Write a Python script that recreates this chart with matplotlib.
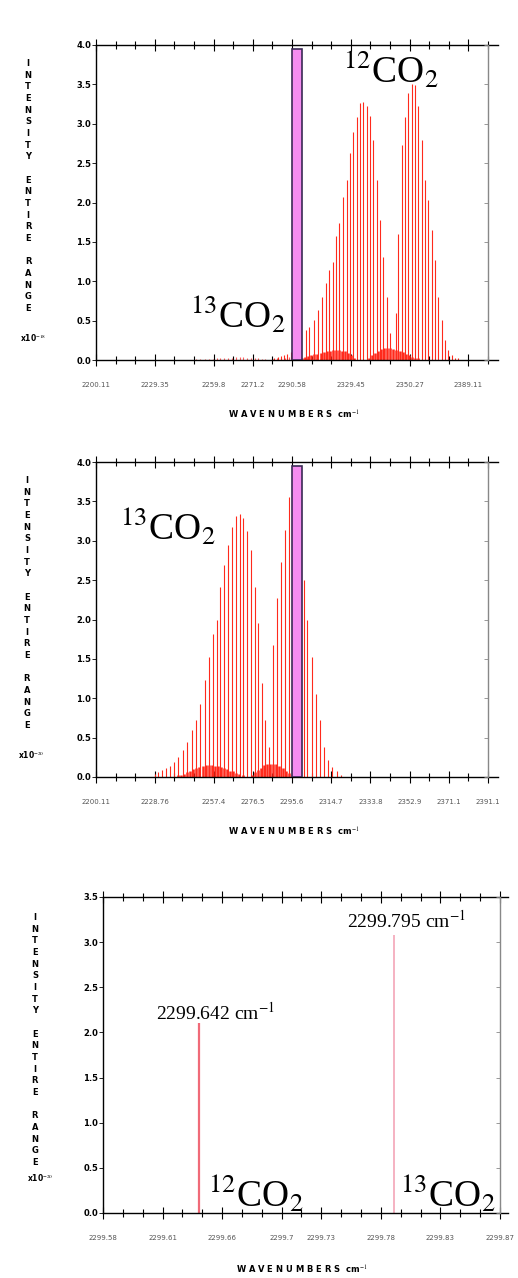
import numpy as np
import matplotlib
matplotlib.use("Agg")
import matplotlib.pyplot as plt
from matplotlib.patches import Rectangle
from matplotlib.ticker import FixedLocator, FixedFormatter

plt.rcParams['mathtext.fontset'] = 'stix'
plt.rcParams['font.family'] = ['DejaVu Sans']

# ---- data ----
# 12CO2 band (top panel, intensity x1e-18)
co12_nu = [2287.0, 2288.6, 2290.2, 2291.8, 2293.4, 2295.0, 2296.6, 2298.2, 2299.8,
           2302.4, 2304.1, 2306.3, 2308.4, 2310.4, 2312.2, 2313.8, 2315.4, 2317.0,
           2318.7, 2320.3, 2322.2, 2323.9, 2325.5, 2327.1, 2328.7, 2330.4, 2332.0,
           2333.6, 2335.2, 2337.2, 2338.5, 2340.1, 2341.7, 2343.4,
           2346.2, 2347.4, 2349.0, 2350.7, 2352.3, 2353.9, 2355.5, 2357.2, 2358.8,
           2360.4, 2362.0, 2363.7, 2365.3, 2366.9, 2368.5, 2370.1, 2371.8, 2373.4,
           2375.0, 2376.6]
co12_int = [0.03, 0.04, 0.05, 0.06, 0.08, 0.10, 0.15, 0.22, 0.30,
            0.38, 0.42, 0.51, 0.63, 0.80, 0.98, 1.14, 1.25, 1.57,
            1.74, 2.07, 2.29, 2.63, 2.90, 3.09, 3.26, 3.28, 3.22,
            3.10, 2.79, 2.29, 1.78, 1.31, 0.80, 0.34,
            0.60, 1.60, 2.73, 3.09, 3.39, 3.51, 3.49, 3.22, 2.79,
            2.29, 2.03, 1.65, 1.27, 0.80, 0.51, 0.25, 0.13, 0.06,
            0.03, 0.02]
co12_hot_nu = [2299.0, 2300.5, 2302.0, 2303.5, 2305.0, 2306.5, 2308.0, 2309.5, 2311.0,
               2312.5, 2314.0, 2315.5, 2317.0, 2318.5, 2320.0, 2321.5, 2323.0, 2324.5,
               2326.0, 2333.0, 2334.5, 2336.0, 2337.5, 2339.0, 2340.5, 2342.0, 2343.5,
               2345.0, 2346.5, 2348.0, 2349.5, 2351.0, 2352.5, 2354.0, 2355.5, 2357.0]
co12_hot_int = [0.02, 0.03, 0.04, 0.05, 0.06, 0.07, 0.08, 0.09, 0.10,
                0.11, 0.12, 0.13, 0.13, 0.13, 0.12, 0.11, 0.09, 0.06,
                0.03, 0.03, 0.06, 0.09, 0.12, 0.14, 0.15, 0.15, 0.15,
                0.14, 0.13, 0.12, 0.10, 0.08, 0.06, 0.04, 0.03, 0.02]

# 13CO2 band (middle panel, intensity x1e-20)
co13_nu = [2228.9, 2230.3, 2232.3, 2234.2, 2236.2, 2238.1, 2240.1, 2242.5, 2244.5,
           2246.9, 2248.8, 2250.8, 2253.2, 2255.2, 2257.1, 2259.1, 2260.5, 2262.5,
           2264.4, 2266.4, 2268.3, 2270.3, 2271.7, 2273.7, 2275.6, 2277.6, 2279.0,
           2281.0, 2282.5, 2284.4, 2286.4, 2288.3, 2290.3, 2292.2, 2294.1, 2296.1,
           2298.0, 2300.0, 2301.5, 2302.9, 2305.4, 2307.3, 2309.3, 2311.2, 2313.2,
           2315.1, 2317.5, 2319.5]
co13_int = [0.04, 0.06, 0.085, 0.12, 0.14, 0.19, 0.26, 0.34, 0.44,
            0.60, 0.72, 0.93, 1.23, 1.52, 1.82, 1.99, 2.41, 2.69,
            2.94, 3.17, 3.31, 3.34, 3.29, 3.13, 2.88, 2.41, 1.95,
            1.20, 0.72, 0.38, 1.67, 2.27, 2.73, 3.14, 3.56, 3.80,
            3.70, 3.10, 2.50, 2.00, 1.52, 1.06, 0.72, 0.38, 0.21,
            0.13, 0.07, 0.03]
co13_hot_nu = [2240.0, 2241.5, 2243.0, 2244.5, 2246.0, 2247.5, 2249.0, 2250.5, 2252.0,
               2253.5, 2255.0, 2256.5, 2258.0, 2259.5, 2261.0, 2262.5, 2264.0, 2265.5,
               2267.0, 2268.5, 2270.0, 2271.5, 2276.0, 2277.5, 2279.0, 2280.5, 2282.0,
               2283.5, 2285.0, 2286.5, 2288.0, 2289.5, 2291.0, 2292.5, 2294.0, 2295.5]
co13_hot_int = [0.02, 0.03, 0.04, 0.06, 0.08, 0.10, 0.11, 0.13, 0.14,
                0.15, 0.15, 0.15, 0.14, 0.14, 0.13, 0.12, 0.10, 0.08,
                0.07, 0.05, 0.04, 0.03, 0.03, 0.06, 0.09, 0.12, 0.15,
                0.16, 0.17, 0.17, 0.16, 0.14, 0.11, 0.08, 0.05, 0.03]

# scanned window (magenta box)
win_start = 2295.6
win_width = 4.9
win_height = 3.95

# the two lines inside the window (bottom panel, x1e-20)
pair_nu = [2299.642, 2299.795]
pair_int = [2.10, 3.08]
pair_text = ['2299.642 cm$^{-1}$', '2299.795 cm$^{-1}$']
pair_colors = ['#f06a78', '#f4a6b8']

# axis ranges and tick labels as printed
wide_range = (2200.11, 2391.1)
narrow_range = (2299.567, 2299.878)
labels1 = ['2200.11', '2229.35', '2259.8', '2271.2', '2290.58', '2329.45', '2350.27', '2389.11']
idx1 = [0, 3, 6, 8, 10, 13, 16, 19]
labels2 = ['2200.11', '2228.76', '2257.4', '2276.5', '2295.6', '2314.7', '2333.8',
           '2352.9', '2371.1', '2391.1']
idx2 = [0, 3, 6, 8, 10, 12, 14, 16, 18, 20]
labels3 = ['2299.58', '2299.61', '2299.66', '2299.7', '2299.73', '2299.78', '2299.83', '2299.87']
idx3 = [0, 3, 6, 9, 11, 14, 17, 20]

W, H = 518, 1278
fig = plt.figure(figsize=(W / 100, H / 100), dpi=100)


def box(left, top, right, bottom):
    return [left / W, 1 - bottom / H, (right - left) / W, (bottom - top) / H]


def fx(x):
    return x / W


def fy(y):
    return 1 - y / H


def setup(ax, xr, extra, idx, labels, ytop):
    x0, x1 = xr
    ax.set_xlim(x0, x1 + extra)
    ax.set_ylim(0, ytop)
    ticks = np.linspace(x0, x1, 21)
    ax.xaxis.set_major_locator(FixedLocator(ticks[idx]))
    ax.xaxis.set_major_formatter(FixedFormatter(labels))
    ax.xaxis.set_minor_locator(FixedLocator(ticks))
    ax.tick_params(axis='x', which='both', top=True, bottom=True, direction='inout',
                   width=0.8, labelsize=5, labelcolor='#555555', pad=11)
    ax.tick_params(axis='x', which='major', length=9)
    ax.tick_params(axis='x', which='minor', length=6)
    ax.set_yticks(np.arange(0, ytop + 0.01, 0.5))
    ax.yaxis.set_major_formatter(plt.FormatStrFormatter('%.1f'))
    ax.tick_params(axis='y', direction='out', length=3, width=0.6, pad=0.5,
                   labelsize=6)
    for t in ax.get_yticklabels():
        t.set_fontweight('bold')
    ax.spines['right'].set_visible(False)
    for s in ['left', 'top', 'bottom']:
        ax.spines[s].set_linewidth(1.0)
    tw = ax.twinx()
    tw.set_ylim(0, ytop)
    tw.set_yticks(np.arange(0, ytop + 0.01, 0.5))
    tw.tick_params(axis='y', direction='in', length=3, width=0.6, colors='#888888',
                   labelright=False)
    for s in ['left', 'top', 'bottom']:
        tw.spines[s].set_visible(False)
    tw.spines['right'].set_position(('data', x1))
    tw.spines['right'].set_color('#888888')
    tw.spines['right'].set_linewidth(1.0)


def side_label(x, ytop, scale_text, sx, sy):
    fig.text(fx(x), fy(ytop), 'I\nN\nT\nE\nN\nS\nI\nT\nY\n\nE\nN\nT\nI\nR\nE\n\nR\nA\nN\nG\nE',
             ha='center', va='top', fontsize=6, fontweight='bold', linespacing=1.38)
    fig.text(fx(sx), fy(sy), scale_text, ha='left', va='center', fontsize=5.5,
             fontweight='bold')


def bottom_label(xc, yc):
    fig.text(fx(xc), fy(yc), 'W A V E N U M B E R S  cm$^{-1}$', ha='center',
             va='center', fontsize=6, fontweight='bold')


red = '#ff2a1c'
iso_kw = dict(fontsize=27, color='black', va='baseline', ha='left',
              family='Liberation Serif')

# ---- panel 1 ----
ax1 = fig.add_axes(box(96, 45, 498, 360))
setup(ax1, wide_range, 4.87, idx1, labels1, 4.0)
ax1.vlines(np.array(co13_nu), 0, np.array(co13_int) / 100.0, colors='#ff6060', lw=0.8)
ax1.vlines(co12_nu, 0, co12_int, colors=red, lw=0.8)
ax1.vlines(co12_hot_nu, 0, co12_hot_int, colors=red, lw=1.8)
ax1.add_patch(Rectangle((win_start, 0), win_width, win_height, facecolor='#f48cf0',
                        edgecolor='#3a2a55', lw=1.2, zorder=3))
ax1.text(2320.5, 3.52, '$^{12}$CO$_2$', **iso_kw)
ax1.text(2245.9, 0.41, '$^{13}$CO$_2$', **iso_kw)
side_label(28, 59, 'x10$^{-18}$', 20, 338)
bottom_label(294, 415)

# ---- panel 2 ----
ax2 = fig.add_axes(box(96, 462, 498, 777))
setup(ax2, wide_range, 4.87, idx2, labels2, 4.0)
ax2.vlines(co13_nu, 0, co13_int, colors=red, lw=0.8)
ax2.vlines(co13_hot_nu, 0, co13_hot_int, colors=red, lw=1.8)
ax2.add_patch(Rectangle((win_start, 0), win_width, win_height, facecolor='#f48cf0',
                        edgecolor='#3a2a55', lw=1.2, zorder=3))
ax2.text(2211.8, 3.01, '$^{13}$CO$_2$', **iso_kw)
side_label(27, 476, 'x10$^{-20}$', 18, 755)
bottom_label(294, 832)

# ---- panel 3 ----
ax3 = fig.add_axes(box(103, 897, 508, 1213))
setup(ax3, narrow_range, 0.0063, idx3, labels3, 3.5)
for nu, inten, c, lw in zip(pair_nu, pair_int, pair_colors, [1.6, 1.2]):
    ax3.vlines(nu, 0, inten, colors=c, lw=lw)
ax3.text(2299.655, 2.14, pair_text[0], ha='center', va='baseline', fontsize=14,
         family='Liberation Serif')
ax3.text(2299.805, 3.16, pair_text[1], ha='center', va='baseline', fontsize=14,
         family='Liberation Serif')
ax3.text(2299.649, 0.066, '$^{12}$CO$_2$', **iso_kw)
ax3.text(2299.800, 0.066, '$^{13}$CO$_2$', **iso_kw)
side_label(35, 913, 'x10$^{-20}$', 27, 1178)
bottom_label(302, 1270)

fig.savefig('out.png', dpi=100)
